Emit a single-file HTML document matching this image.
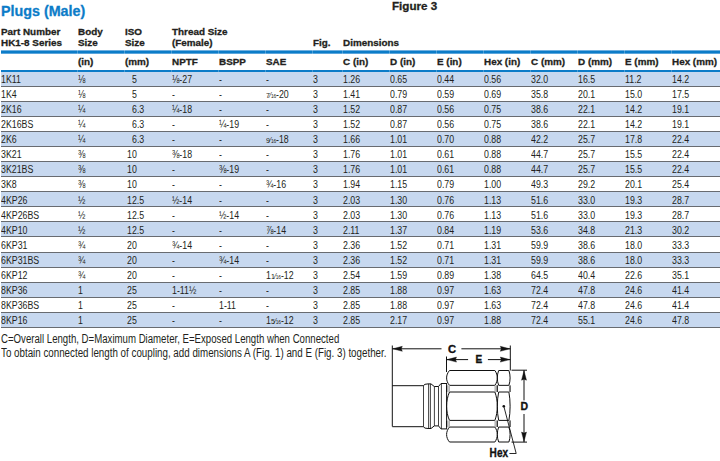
<!DOCTYPE html>
<html><head><meta charset="utf-8"><style>
html,body{margin:0;padding:0;background:#fff;width:720px;height:461px;overflow:hidden}
body{position:relative;font-family:"Liberation Sans", sans-serif;color:#231f20}
.t{position:absolute;white-space:nowrap;transform-origin:0 0}
.r{position:absolute}
.nu{font-size:0.8em;position:relative;top:-0.02em}
.sl{font-size:0.85em;margin:0 -0.02em}
.de{font-size:0.55em;letter-spacing:-0.03em}
</style></head><body>
<div class="t" style="left:1.00px;top:4.45px;font-size:14.3px;line-height:14.3px;font-weight:bold;-webkit-text-stroke:0.3px currentColor;color:#0c7cc8;">Plugs (Male)</div><div class="t" style="left:392.00px;top:1.38px;font-size:11.2px;line-height:11.2px;font-weight:bold;-webkit-text-stroke:0.3px currentColor;transform:scaleX(1.04);">Figure 3</div><div class="t" style="left:1.00px;top:27.46px;font-size:9.7px;line-height:9.7px;font-weight:bold;-webkit-text-stroke:0.3px currentColor;transform:scaleX(1.02);">Part Number</div><div class="t" style="left:1.00px;top:37.55px;font-size:9.7px;line-height:9.7px;font-weight:bold;-webkit-text-stroke:0.3px currentColor;transform:scaleX(1.02);">HK1-8 Series</div><div class="t" style="left:77.80px;top:27.46px;font-size:9.7px;line-height:9.7px;font-weight:bold;-webkit-text-stroke:0.3px currentColor;transform:scaleX(1.02);">Body</div><div class="t" style="left:77.80px;top:37.55px;font-size:9.7px;line-height:9.7px;font-weight:bold;-webkit-text-stroke:0.3px currentColor;transform:scaleX(1.02);">Size</div><div class="t" style="left:124.50px;top:27.46px;font-size:9.7px;line-height:9.7px;font-weight:bold;-webkit-text-stroke:0.3px currentColor;transform:scaleX(1.02);">ISO</div><div class="t" style="left:124.50px;top:37.55px;font-size:9.7px;line-height:9.7px;font-weight:bold;-webkit-text-stroke:0.3px currentColor;transform:scaleX(1.02);">Size</div><div class="t" style="left:171.50px;top:27.46px;font-size:9.7px;line-height:9.7px;font-weight:bold;-webkit-text-stroke:0.3px currentColor;transform:scaleX(1.02);">Thread Size</div><div class="t" style="left:171.50px;top:37.55px;font-size:9.7px;line-height:9.7px;font-weight:bold;-webkit-text-stroke:0.3px currentColor;transform:scaleX(1.02);">(Female)</div><div class="t" style="left:312.50px;top:37.55px;font-size:9.7px;line-height:9.7px;font-weight:bold;-webkit-text-stroke:0.3px currentColor;transform:scaleX(1.02);">Fig.</div><div class="t" style="left:342.50px;top:37.55px;font-size:9.7px;line-height:9.7px;font-weight:bold;-webkit-text-stroke:0.3px currentColor;transform:scaleX(1.02);">Dimensions</div><div class="t" style="left:77.50px;top:56.66px;font-size:9.7px;line-height:9.7px;font-weight:bold;-webkit-text-stroke:0.3px currentColor;transform:scaleX(1.02);">(in)</div><div class="t" style="left:124.50px;top:56.66px;font-size:9.7px;line-height:9.7px;font-weight:bold;-webkit-text-stroke:0.3px currentColor;transform:scaleX(1.02);">(mm)</div><div class="t" style="left:171.50px;top:56.66px;font-size:9.7px;line-height:9.7px;font-weight:bold;-webkit-text-stroke:0.3px currentColor;transform:scaleX(1.02);">NPTF</div><div class="t" style="left:218.75px;top:56.66px;font-size:9.7px;line-height:9.7px;font-weight:bold;-webkit-text-stroke:0.3px currentColor;transform:scaleX(1.02);">BSPP</div><div class="t" style="left:265.50px;top:56.66px;font-size:9.7px;line-height:9.7px;font-weight:bold;-webkit-text-stroke:0.3px currentColor;transform:scaleX(1.02);">SAE</div><div class="t" style="left:342.50px;top:56.66px;font-size:9.7px;line-height:9.7px;font-weight:bold;-webkit-text-stroke:0.3px currentColor;transform:scaleX(1.02);">C (in)</div><div class="t" style="left:389.50px;top:56.66px;font-size:9.7px;line-height:9.7px;font-weight:bold;-webkit-text-stroke:0.3px currentColor;transform:scaleX(1.02);">D (in)</div><div class="t" style="left:436.50px;top:56.66px;font-size:9.7px;line-height:9.7px;font-weight:bold;-webkit-text-stroke:0.3px currentColor;transform:scaleX(1.02);">E (in)</div><div class="t" style="left:483.75px;top:56.66px;font-size:9.7px;line-height:9.7px;font-weight:bold;-webkit-text-stroke:0.3px currentColor;transform:scaleX(1.02);">Hex (in)</div><div class="t" style="left:530.75px;top:56.66px;font-size:9.7px;line-height:9.7px;font-weight:bold;-webkit-text-stroke:0.3px currentColor;transform:scaleX(1.02);">C (mm)</div><div class="t" style="left:578.00px;top:56.66px;font-size:9.7px;line-height:9.7px;font-weight:bold;-webkit-text-stroke:0.3px currentColor;transform:scaleX(1.02);">D (mm)</div><div class="t" style="left:625.00px;top:56.66px;font-size:9.7px;line-height:9.7px;font-weight:bold;-webkit-text-stroke:0.3px currentColor;transform:scaleX(1.02);">E (mm)</div><div class="t" style="left:671.75px;top:56.66px;font-size:9.7px;line-height:9.7px;font-weight:bold;-webkit-text-stroke:0.3px currentColor;transform:scaleX(1.02);">Hex (mm)</div><div class="r" style="left:1px;top:50px;width:719px;height:1px;background:#6fb0e0"></div><div class="r" style="left:1px;top:51px;width:719px;height:2px;background:#0c7cc8"></div><div class="r" style="left:1px;top:53px;width:719px;height:1px;background:#5aa5dc"></div><div class="r" style="left:1px;top:70px;width:719px;height:2px;background:#0c7cc8"></div><div class="r" style="left:1px;top:72px;width:719px;height:14px;background:#c7d8ef"></div><div class="r" style="left:1px;top:86px;width:719px;height:1px;background:#686b70"></div><div class="t" style="left:1.00px;top:75.10px;font-size:10.0px;line-height:10.0px;transform:scaleX(0.88);">1K11</div><div class="t" style="left:77.50px;top:75.10px;font-size:10.0px;line-height:10.0px;transform:scaleX(0.88);">⅛</div><div class="t" style="left:131.60px;top:75.10px;font-size:10.0px;line-height:10.0px;transform:scaleX(0.88);">5</div><div class="t" style="left:171.50px;top:75.10px;font-size:10.0px;line-height:10.0px;transform:scaleX(0.88);">⅛-27</div><div class="t" style="left:218.75px;top:75.10px;font-size:10.0px;line-height:10.0px;transform:scaleX(0.88);">-</div><div class="t" style="left:265.50px;top:75.10px;font-size:10.0px;line-height:10.0px;transform:scaleX(0.88);">-</div><div class="t" style="left:313.00px;top:75.10px;font-size:10.0px;line-height:10.0px;transform:scaleX(0.88);">3</div><div class="t" style="left:342.50px;top:75.10px;font-size:10.0px;line-height:10.0px;transform:scaleX(0.88);">1.26</div><div class="t" style="left:389.50px;top:75.10px;font-size:10.0px;line-height:10.0px;transform:scaleX(0.88);">0.65</div><div class="t" style="left:436.50px;top:75.10px;font-size:10.0px;line-height:10.0px;transform:scaleX(0.88);">0.44</div><div class="t" style="left:483.75px;top:75.10px;font-size:10.0px;line-height:10.0px;transform:scaleX(0.88);">0.56</div><div class="t" style="left:530.75px;top:75.10px;font-size:10.0px;line-height:10.0px;transform:scaleX(0.88);">32.0</div><div class="t" style="left:578.00px;top:75.10px;font-size:10.0px;line-height:10.0px;transform:scaleX(0.88);">16.5</div><div class="t" style="left:625.00px;top:75.10px;font-size:10.0px;line-height:10.0px;transform:scaleX(0.88);">11.2</div><div class="t" style="left:671.75px;top:75.10px;font-size:10.0px;line-height:10.0px;transform:scaleX(0.88);">14.2</div><div class="r" style="left:1px;top:101px;width:719px;height:1px;background:#686b70"></div><div class="t" style="left:1.00px;top:90.16px;font-size:10.0px;line-height:10.0px;transform:scaleX(0.88);">1K4</div><div class="t" style="left:77.50px;top:90.16px;font-size:10.0px;line-height:10.0px;transform:scaleX(0.88);">⅛</div><div class="t" style="left:131.60px;top:90.16px;font-size:10.0px;line-height:10.0px;transform:scaleX(0.88);">5</div><div class="t" style="left:171.50px;top:90.16px;font-size:10.0px;line-height:10.0px;transform:scaleX(0.88);">-</div><div class="t" style="left:218.75px;top:90.16px;font-size:10.0px;line-height:10.0px;transform:scaleX(0.88);">-</div><div class="t" style="left:265.50px;top:90.16px;font-size:10.0px;line-height:10.0px;transform:scaleX(0.88);"><span class="nu">7</span><span class="sl">&#8260;</span><span class="de">16</span>-20</div><div class="t" style="left:313.00px;top:90.16px;font-size:10.0px;line-height:10.0px;transform:scaleX(0.88);">3</div><div class="t" style="left:342.50px;top:90.16px;font-size:10.0px;line-height:10.0px;transform:scaleX(0.88);">1.41</div><div class="t" style="left:389.50px;top:90.16px;font-size:10.0px;line-height:10.0px;transform:scaleX(0.88);">0.79</div><div class="t" style="left:436.50px;top:90.16px;font-size:10.0px;line-height:10.0px;transform:scaleX(0.88);">0.59</div><div class="t" style="left:483.75px;top:90.16px;font-size:10.0px;line-height:10.0px;transform:scaleX(0.88);">0.69</div><div class="t" style="left:530.75px;top:90.16px;font-size:10.0px;line-height:10.0px;transform:scaleX(0.88);">35.8</div><div class="t" style="left:578.00px;top:90.16px;font-size:10.0px;line-height:10.0px;transform:scaleX(0.88);">20.1</div><div class="t" style="left:625.00px;top:90.16px;font-size:10.0px;line-height:10.0px;transform:scaleX(0.88);">15.0</div><div class="t" style="left:671.75px;top:90.16px;font-size:10.0px;line-height:10.0px;transform:scaleX(0.88);">17.5</div><div class="r" style="left:1px;top:102px;width:719px;height:14px;background:#c7d8ef"></div><div class="r" style="left:1px;top:116px;width:719px;height:1px;background:#686b70"></div><div class="t" style="left:1.00px;top:105.21px;font-size:10.0px;line-height:10.0px;transform:scaleX(0.88);">2K16</div><div class="t" style="left:77.50px;top:105.21px;font-size:10.0px;line-height:10.0px;transform:scaleX(0.88);">¼</div><div class="t" style="left:131.60px;top:105.21px;font-size:10.0px;line-height:10.0px;transform:scaleX(0.88);">6.3</div><div class="t" style="left:171.50px;top:105.21px;font-size:10.0px;line-height:10.0px;transform:scaleX(0.88);">¼-18</div><div class="t" style="left:218.75px;top:105.21px;font-size:10.0px;line-height:10.0px;transform:scaleX(0.88);">-</div><div class="t" style="left:265.50px;top:105.21px;font-size:10.0px;line-height:10.0px;transform:scaleX(0.88);">-</div><div class="t" style="left:313.00px;top:105.21px;font-size:10.0px;line-height:10.0px;transform:scaleX(0.88);">3</div><div class="t" style="left:342.50px;top:105.21px;font-size:10.0px;line-height:10.0px;transform:scaleX(0.88);">1.52</div><div class="t" style="left:389.50px;top:105.21px;font-size:10.0px;line-height:10.0px;transform:scaleX(0.88);">0.87</div><div class="t" style="left:436.50px;top:105.21px;font-size:10.0px;line-height:10.0px;transform:scaleX(0.88);">0.56</div><div class="t" style="left:483.75px;top:105.21px;font-size:10.0px;line-height:10.0px;transform:scaleX(0.88);">0.75</div><div class="t" style="left:530.75px;top:105.21px;font-size:10.0px;line-height:10.0px;transform:scaleX(0.88);">38.6</div><div class="t" style="left:578.00px;top:105.21px;font-size:10.0px;line-height:10.0px;transform:scaleX(0.88);">22.1</div><div class="t" style="left:625.00px;top:105.21px;font-size:10.0px;line-height:10.0px;transform:scaleX(0.88);">14.2</div><div class="t" style="left:671.75px;top:105.21px;font-size:10.0px;line-height:10.0px;transform:scaleX(0.88);">19.1</div><div class="r" style="left:1px;top:131px;width:719px;height:1px;background:#686b70"></div><div class="t" style="left:1.00px;top:120.27px;font-size:10.0px;line-height:10.0px;transform:scaleX(0.88);">2K16BS</div><div class="t" style="left:77.50px;top:120.27px;font-size:10.0px;line-height:10.0px;transform:scaleX(0.88);">¼</div><div class="t" style="left:131.60px;top:120.27px;font-size:10.0px;line-height:10.0px;transform:scaleX(0.88);">6.3</div><div class="t" style="left:171.50px;top:120.27px;font-size:10.0px;line-height:10.0px;transform:scaleX(0.88);">-</div><div class="t" style="left:218.75px;top:120.27px;font-size:10.0px;line-height:10.0px;transform:scaleX(0.88);">¼-19</div><div class="t" style="left:265.50px;top:120.27px;font-size:10.0px;line-height:10.0px;transform:scaleX(0.88);">-</div><div class="t" style="left:313.00px;top:120.27px;font-size:10.0px;line-height:10.0px;transform:scaleX(0.88);">3</div><div class="t" style="left:342.50px;top:120.27px;font-size:10.0px;line-height:10.0px;transform:scaleX(0.88);">1.52</div><div class="t" style="left:389.50px;top:120.27px;font-size:10.0px;line-height:10.0px;transform:scaleX(0.88);">0.87</div><div class="t" style="left:436.50px;top:120.27px;font-size:10.0px;line-height:10.0px;transform:scaleX(0.88);">0.56</div><div class="t" style="left:483.75px;top:120.27px;font-size:10.0px;line-height:10.0px;transform:scaleX(0.88);">0.75</div><div class="t" style="left:530.75px;top:120.27px;font-size:10.0px;line-height:10.0px;transform:scaleX(0.88);">38.6</div><div class="t" style="left:578.00px;top:120.27px;font-size:10.0px;line-height:10.0px;transform:scaleX(0.88);">22.1</div><div class="t" style="left:625.00px;top:120.27px;font-size:10.0px;line-height:10.0px;transform:scaleX(0.88);">14.2</div><div class="t" style="left:671.75px;top:120.27px;font-size:10.0px;line-height:10.0px;transform:scaleX(0.88);">19.1</div><div class="r" style="left:1px;top:132px;width:719px;height:14px;background:#c7d8ef"></div><div class="r" style="left:1px;top:146px;width:719px;height:1px;background:#686b70"></div><div class="t" style="left:1.00px;top:135.32px;font-size:10.0px;line-height:10.0px;transform:scaleX(0.88);">2K6</div><div class="t" style="left:77.50px;top:135.32px;font-size:10.0px;line-height:10.0px;transform:scaleX(0.88);">¼</div><div class="t" style="left:131.60px;top:135.32px;font-size:10.0px;line-height:10.0px;transform:scaleX(0.88);">6.3</div><div class="t" style="left:171.50px;top:135.32px;font-size:10.0px;line-height:10.0px;transform:scaleX(0.88);">-</div><div class="t" style="left:218.75px;top:135.32px;font-size:10.0px;line-height:10.0px;transform:scaleX(0.88);">-</div><div class="t" style="left:265.50px;top:135.32px;font-size:10.0px;line-height:10.0px;transform:scaleX(0.88);"><span class="nu">9</span><span class="sl">&#8260;</span><span class="de">16</span>-18</div><div class="t" style="left:313.00px;top:135.32px;font-size:10.0px;line-height:10.0px;transform:scaleX(0.88);">3</div><div class="t" style="left:342.50px;top:135.32px;font-size:10.0px;line-height:10.0px;transform:scaleX(0.88);">1.66</div><div class="t" style="left:389.50px;top:135.32px;font-size:10.0px;line-height:10.0px;transform:scaleX(0.88);">1.01</div><div class="t" style="left:436.50px;top:135.32px;font-size:10.0px;line-height:10.0px;transform:scaleX(0.88);">0.70</div><div class="t" style="left:483.75px;top:135.32px;font-size:10.0px;line-height:10.0px;transform:scaleX(0.88);">0.88</div><div class="t" style="left:530.75px;top:135.32px;font-size:10.0px;line-height:10.0px;transform:scaleX(0.88);">42.2</div><div class="t" style="left:578.00px;top:135.32px;font-size:10.0px;line-height:10.0px;transform:scaleX(0.88);">25.7</div><div class="t" style="left:625.00px;top:135.32px;font-size:10.0px;line-height:10.0px;transform:scaleX(0.88);">17.8</div><div class="t" style="left:671.75px;top:135.32px;font-size:10.0px;line-height:10.0px;transform:scaleX(0.88);">22.4</div><div class="r" style="left:1px;top:161px;width:719px;height:1px;background:#686b70"></div><div class="t" style="left:1.00px;top:150.38px;font-size:10.0px;line-height:10.0px;transform:scaleX(0.88);">3K21</div><div class="t" style="left:77.50px;top:150.38px;font-size:10.0px;line-height:10.0px;transform:scaleX(0.88);">⅜</div><div class="t" style="left:126.80px;top:150.38px;font-size:10.0px;line-height:10.0px;transform:scaleX(0.88);">10</div><div class="t" style="left:171.50px;top:150.38px;font-size:10.0px;line-height:10.0px;transform:scaleX(0.88);">⅜-18</div><div class="t" style="left:218.75px;top:150.38px;font-size:10.0px;line-height:10.0px;transform:scaleX(0.88);">-</div><div class="t" style="left:265.50px;top:150.38px;font-size:10.0px;line-height:10.0px;transform:scaleX(0.88);">-</div><div class="t" style="left:313.00px;top:150.38px;font-size:10.0px;line-height:10.0px;transform:scaleX(0.88);">3</div><div class="t" style="left:342.50px;top:150.38px;font-size:10.0px;line-height:10.0px;transform:scaleX(0.88);">1.76</div><div class="t" style="left:389.50px;top:150.38px;font-size:10.0px;line-height:10.0px;transform:scaleX(0.88);">1.01</div><div class="t" style="left:436.50px;top:150.38px;font-size:10.0px;line-height:10.0px;transform:scaleX(0.88);">0.61</div><div class="t" style="left:483.75px;top:150.38px;font-size:10.0px;line-height:10.0px;transform:scaleX(0.88);">0.88</div><div class="t" style="left:530.75px;top:150.38px;font-size:10.0px;line-height:10.0px;transform:scaleX(0.88);">44.7</div><div class="t" style="left:578.00px;top:150.38px;font-size:10.0px;line-height:10.0px;transform:scaleX(0.88);">25.7</div><div class="t" style="left:625.00px;top:150.38px;font-size:10.0px;line-height:10.0px;transform:scaleX(0.88);">15.5</div><div class="t" style="left:671.75px;top:150.38px;font-size:10.0px;line-height:10.0px;transform:scaleX(0.88);">22.4</div><div class="r" style="left:1px;top:162px;width:719px;height:14px;background:#c7d8ef"></div><div class="r" style="left:1px;top:176px;width:719px;height:1px;background:#686b70"></div><div class="t" style="left:1.00px;top:165.44px;font-size:10.0px;line-height:10.0px;transform:scaleX(0.88);">3K21BS</div><div class="t" style="left:77.50px;top:165.44px;font-size:10.0px;line-height:10.0px;transform:scaleX(0.88);">⅜</div><div class="t" style="left:126.80px;top:165.44px;font-size:10.0px;line-height:10.0px;transform:scaleX(0.88);">10</div><div class="t" style="left:171.50px;top:165.44px;font-size:10.0px;line-height:10.0px;transform:scaleX(0.88);">-</div><div class="t" style="left:218.75px;top:165.44px;font-size:10.0px;line-height:10.0px;transform:scaleX(0.88);">⅜-19</div><div class="t" style="left:265.50px;top:165.44px;font-size:10.0px;line-height:10.0px;transform:scaleX(0.88);">-</div><div class="t" style="left:313.00px;top:165.44px;font-size:10.0px;line-height:10.0px;transform:scaleX(0.88);">3</div><div class="t" style="left:342.50px;top:165.44px;font-size:10.0px;line-height:10.0px;transform:scaleX(0.88);">1.76</div><div class="t" style="left:389.50px;top:165.44px;font-size:10.0px;line-height:10.0px;transform:scaleX(0.88);">1.01</div><div class="t" style="left:436.50px;top:165.44px;font-size:10.0px;line-height:10.0px;transform:scaleX(0.88);">0.61</div><div class="t" style="left:483.75px;top:165.44px;font-size:10.0px;line-height:10.0px;transform:scaleX(0.88);">0.88</div><div class="t" style="left:530.75px;top:165.44px;font-size:10.0px;line-height:10.0px;transform:scaleX(0.88);">44.7</div><div class="t" style="left:578.00px;top:165.44px;font-size:10.0px;line-height:10.0px;transform:scaleX(0.88);">25.7</div><div class="t" style="left:625.00px;top:165.44px;font-size:10.0px;line-height:10.0px;transform:scaleX(0.88);">15.5</div><div class="t" style="left:671.75px;top:165.44px;font-size:10.0px;line-height:10.0px;transform:scaleX(0.88);">22.4</div><div class="r" style="left:1px;top:191px;width:719px;height:1px;background:#686b70"></div><div class="t" style="left:1.00px;top:180.49px;font-size:10.0px;line-height:10.0px;transform:scaleX(0.88);">3K8</div><div class="t" style="left:77.50px;top:180.49px;font-size:10.0px;line-height:10.0px;transform:scaleX(0.88);">⅜</div><div class="t" style="left:126.80px;top:180.49px;font-size:10.0px;line-height:10.0px;transform:scaleX(0.88);">10</div><div class="t" style="left:171.50px;top:180.49px;font-size:10.0px;line-height:10.0px;transform:scaleX(0.88);">-</div><div class="t" style="left:218.75px;top:180.49px;font-size:10.0px;line-height:10.0px;transform:scaleX(0.88);">-</div><div class="t" style="left:265.50px;top:180.49px;font-size:10.0px;line-height:10.0px;transform:scaleX(0.88);">¾-16</div><div class="t" style="left:313.00px;top:180.49px;font-size:10.0px;line-height:10.0px;transform:scaleX(0.88);">3</div><div class="t" style="left:342.50px;top:180.49px;font-size:10.0px;line-height:10.0px;transform:scaleX(0.88);">1.94</div><div class="t" style="left:389.50px;top:180.49px;font-size:10.0px;line-height:10.0px;transform:scaleX(0.88);">1.15</div><div class="t" style="left:436.50px;top:180.49px;font-size:10.0px;line-height:10.0px;transform:scaleX(0.88);">0.79</div><div class="t" style="left:483.75px;top:180.49px;font-size:10.0px;line-height:10.0px;transform:scaleX(0.88);">1.00</div><div class="t" style="left:530.75px;top:180.49px;font-size:10.0px;line-height:10.0px;transform:scaleX(0.88);">49.3</div><div class="t" style="left:578.00px;top:180.49px;font-size:10.0px;line-height:10.0px;transform:scaleX(0.88);">29.2</div><div class="t" style="left:625.00px;top:180.49px;font-size:10.0px;line-height:10.0px;transform:scaleX(0.88);">20.1</div><div class="t" style="left:671.75px;top:180.49px;font-size:10.0px;line-height:10.0px;transform:scaleX(0.88);">25.4</div><div class="r" style="left:1px;top:192px;width:719px;height:14px;background:#c7d8ef"></div><div class="r" style="left:1px;top:206px;width:719px;height:1px;background:#686b70"></div><div class="t" style="left:1.00px;top:195.55px;font-size:10.0px;line-height:10.0px;transform:scaleX(0.88);">4KP26</div><div class="t" style="left:77.50px;top:195.55px;font-size:10.0px;line-height:10.0px;transform:scaleX(0.88);">½</div><div class="t" style="left:126.80px;top:195.55px;font-size:10.0px;line-height:10.0px;transform:scaleX(0.88);">12.5</div><div class="t" style="left:171.50px;top:195.55px;font-size:10.0px;line-height:10.0px;transform:scaleX(0.88);">½-14</div><div class="t" style="left:218.75px;top:195.55px;font-size:10.0px;line-height:10.0px;transform:scaleX(0.88);">-</div><div class="t" style="left:265.50px;top:195.55px;font-size:10.0px;line-height:10.0px;transform:scaleX(0.88);">-</div><div class="t" style="left:313.00px;top:195.55px;font-size:10.0px;line-height:10.0px;transform:scaleX(0.88);">3</div><div class="t" style="left:342.50px;top:195.55px;font-size:10.0px;line-height:10.0px;transform:scaleX(0.88);">2.03</div><div class="t" style="left:389.50px;top:195.55px;font-size:10.0px;line-height:10.0px;transform:scaleX(0.88);">1.30</div><div class="t" style="left:436.50px;top:195.55px;font-size:10.0px;line-height:10.0px;transform:scaleX(0.88);">0.76</div><div class="t" style="left:483.75px;top:195.55px;font-size:10.0px;line-height:10.0px;transform:scaleX(0.88);">1.13</div><div class="t" style="left:530.75px;top:195.55px;font-size:10.0px;line-height:10.0px;transform:scaleX(0.88);">51.6</div><div class="t" style="left:578.00px;top:195.55px;font-size:10.0px;line-height:10.0px;transform:scaleX(0.88);">33.0</div><div class="t" style="left:625.00px;top:195.55px;font-size:10.0px;line-height:10.0px;transform:scaleX(0.88);">19.3</div><div class="t" style="left:671.75px;top:195.55px;font-size:10.0px;line-height:10.0px;transform:scaleX(0.88);">28.7</div><div class="r" style="left:1px;top:221px;width:719px;height:1px;background:#686b70"></div><div class="t" style="left:1.00px;top:210.60px;font-size:10.0px;line-height:10.0px;transform:scaleX(0.88);">4KP26BS</div><div class="t" style="left:77.50px;top:210.60px;font-size:10.0px;line-height:10.0px;transform:scaleX(0.88);">½</div><div class="t" style="left:126.80px;top:210.60px;font-size:10.0px;line-height:10.0px;transform:scaleX(0.88);">12.5</div><div class="t" style="left:171.50px;top:210.60px;font-size:10.0px;line-height:10.0px;transform:scaleX(0.88);">-</div><div class="t" style="left:218.75px;top:210.60px;font-size:10.0px;line-height:10.0px;transform:scaleX(0.88);">½-14</div><div class="t" style="left:265.50px;top:210.60px;font-size:10.0px;line-height:10.0px;transform:scaleX(0.88);">-</div><div class="t" style="left:313.00px;top:210.60px;font-size:10.0px;line-height:10.0px;transform:scaleX(0.88);">3</div><div class="t" style="left:342.50px;top:210.60px;font-size:10.0px;line-height:10.0px;transform:scaleX(0.88);">2.03</div><div class="t" style="left:389.50px;top:210.60px;font-size:10.0px;line-height:10.0px;transform:scaleX(0.88);">1.30</div><div class="t" style="left:436.50px;top:210.60px;font-size:10.0px;line-height:10.0px;transform:scaleX(0.88);">0.76</div><div class="t" style="left:483.75px;top:210.60px;font-size:10.0px;line-height:10.0px;transform:scaleX(0.88);">1.13</div><div class="t" style="left:530.75px;top:210.60px;font-size:10.0px;line-height:10.0px;transform:scaleX(0.88);">51.6</div><div class="t" style="left:578.00px;top:210.60px;font-size:10.0px;line-height:10.0px;transform:scaleX(0.88);">33.0</div><div class="t" style="left:625.00px;top:210.60px;font-size:10.0px;line-height:10.0px;transform:scaleX(0.88);">19.3</div><div class="t" style="left:671.75px;top:210.60px;font-size:10.0px;line-height:10.0px;transform:scaleX(0.88);">28.7</div><div class="r" style="left:1px;top:222px;width:719px;height:14px;background:#c7d8ef"></div><div class="r" style="left:1px;top:236px;width:719px;height:1px;background:#686b70"></div><div class="t" style="left:1.00px;top:225.66px;font-size:10.0px;line-height:10.0px;transform:scaleX(0.88);">4KP10</div><div class="t" style="left:77.50px;top:225.66px;font-size:10.0px;line-height:10.0px;transform:scaleX(0.88);">½</div><div class="t" style="left:126.80px;top:225.66px;font-size:10.0px;line-height:10.0px;transform:scaleX(0.88);">12.5</div><div class="t" style="left:171.50px;top:225.66px;font-size:10.0px;line-height:10.0px;transform:scaleX(0.88);">-</div><div class="t" style="left:218.75px;top:225.66px;font-size:10.0px;line-height:10.0px;transform:scaleX(0.88);">-</div><div class="t" style="left:265.50px;top:225.66px;font-size:10.0px;line-height:10.0px;transform:scaleX(0.88);">⅞-14</div><div class="t" style="left:313.00px;top:225.66px;font-size:10.0px;line-height:10.0px;transform:scaleX(0.88);">3</div><div class="t" style="left:342.50px;top:225.66px;font-size:10.0px;line-height:10.0px;transform:scaleX(0.88);">2.11</div><div class="t" style="left:389.50px;top:225.66px;font-size:10.0px;line-height:10.0px;transform:scaleX(0.88);">1.37</div><div class="t" style="left:436.50px;top:225.66px;font-size:10.0px;line-height:10.0px;transform:scaleX(0.88);">0.84</div><div class="t" style="left:483.75px;top:225.66px;font-size:10.0px;line-height:10.0px;transform:scaleX(0.88);">1.19</div><div class="t" style="left:530.75px;top:225.66px;font-size:10.0px;line-height:10.0px;transform:scaleX(0.88);">53.6</div><div class="t" style="left:578.00px;top:225.66px;font-size:10.0px;line-height:10.0px;transform:scaleX(0.88);">34.8</div><div class="t" style="left:625.00px;top:225.66px;font-size:10.0px;line-height:10.0px;transform:scaleX(0.88);">21.3</div><div class="t" style="left:671.75px;top:225.66px;font-size:10.0px;line-height:10.0px;transform:scaleX(0.88);">30.2</div><div class="r" style="left:1px;top:252px;width:719px;height:1px;background:#686b70"></div><div class="t" style="left:1.00px;top:240.72px;font-size:10.0px;line-height:10.0px;transform:scaleX(0.88);">6KP31</div><div class="t" style="left:77.50px;top:240.72px;font-size:10.0px;line-height:10.0px;transform:scaleX(0.88);">¾</div><div class="t" style="left:126.80px;top:240.72px;font-size:10.0px;line-height:10.0px;transform:scaleX(0.88);">20</div><div class="t" style="left:171.50px;top:240.72px;font-size:10.0px;line-height:10.0px;transform:scaleX(0.88);">¾-14</div><div class="t" style="left:218.75px;top:240.72px;font-size:10.0px;line-height:10.0px;transform:scaleX(0.88);">-</div><div class="t" style="left:265.50px;top:240.72px;font-size:10.0px;line-height:10.0px;transform:scaleX(0.88);">-</div><div class="t" style="left:313.00px;top:240.72px;font-size:10.0px;line-height:10.0px;transform:scaleX(0.88);">3</div><div class="t" style="left:342.50px;top:240.72px;font-size:10.0px;line-height:10.0px;transform:scaleX(0.88);">2.36</div><div class="t" style="left:389.50px;top:240.72px;font-size:10.0px;line-height:10.0px;transform:scaleX(0.88);">1.52</div><div class="t" style="left:436.50px;top:240.72px;font-size:10.0px;line-height:10.0px;transform:scaleX(0.88);">0.71</div><div class="t" style="left:483.75px;top:240.72px;font-size:10.0px;line-height:10.0px;transform:scaleX(0.88);">1.31</div><div class="t" style="left:530.75px;top:240.72px;font-size:10.0px;line-height:10.0px;transform:scaleX(0.88);">59.9</div><div class="t" style="left:578.00px;top:240.72px;font-size:10.0px;line-height:10.0px;transform:scaleX(0.88);">38.6</div><div class="t" style="left:625.00px;top:240.72px;font-size:10.0px;line-height:10.0px;transform:scaleX(0.88);">18.0</div><div class="t" style="left:671.75px;top:240.72px;font-size:10.0px;line-height:10.0px;transform:scaleX(0.88);">33.3</div><div class="r" style="left:1px;top:253px;width:719px;height:14px;background:#c7d8ef"></div><div class="r" style="left:1px;top:267px;width:719px;height:1px;background:#686b70"></div><div class="t" style="left:1.00px;top:255.77px;font-size:10.0px;line-height:10.0px;transform:scaleX(0.88);">6KP31BS</div><div class="t" style="left:77.50px;top:255.77px;font-size:10.0px;line-height:10.0px;transform:scaleX(0.88);">¾</div><div class="t" style="left:126.80px;top:255.77px;font-size:10.0px;line-height:10.0px;transform:scaleX(0.88);">20</div><div class="t" style="left:171.50px;top:255.77px;font-size:10.0px;line-height:10.0px;transform:scaleX(0.88);">-</div><div class="t" style="left:218.75px;top:255.77px;font-size:10.0px;line-height:10.0px;transform:scaleX(0.88);">¾-14</div><div class="t" style="left:265.50px;top:255.77px;font-size:10.0px;line-height:10.0px;transform:scaleX(0.88);">-</div><div class="t" style="left:313.00px;top:255.77px;font-size:10.0px;line-height:10.0px;transform:scaleX(0.88);">3</div><div class="t" style="left:342.50px;top:255.77px;font-size:10.0px;line-height:10.0px;transform:scaleX(0.88);">2.36</div><div class="t" style="left:389.50px;top:255.77px;font-size:10.0px;line-height:10.0px;transform:scaleX(0.88);">1.52</div><div class="t" style="left:436.50px;top:255.77px;font-size:10.0px;line-height:10.0px;transform:scaleX(0.88);">0.71</div><div class="t" style="left:483.75px;top:255.77px;font-size:10.0px;line-height:10.0px;transform:scaleX(0.88);">1.31</div><div class="t" style="left:530.75px;top:255.77px;font-size:10.0px;line-height:10.0px;transform:scaleX(0.88);">59.9</div><div class="t" style="left:578.00px;top:255.77px;font-size:10.0px;line-height:10.0px;transform:scaleX(0.88);">38.6</div><div class="t" style="left:625.00px;top:255.77px;font-size:10.0px;line-height:10.0px;transform:scaleX(0.88);">18.0</div><div class="t" style="left:671.75px;top:255.77px;font-size:10.0px;line-height:10.0px;transform:scaleX(0.88);">33.3</div><div class="r" style="left:1px;top:282px;width:719px;height:1px;background:#686b70"></div><div class="t" style="left:1.00px;top:270.83px;font-size:10.0px;line-height:10.0px;transform:scaleX(0.88);">6KP12</div><div class="t" style="left:77.50px;top:270.83px;font-size:10.0px;line-height:10.0px;transform:scaleX(0.88);">¾</div><div class="t" style="left:126.80px;top:270.83px;font-size:10.0px;line-height:10.0px;transform:scaleX(0.88);">20</div><div class="t" style="left:171.50px;top:270.83px;font-size:10.0px;line-height:10.0px;transform:scaleX(0.88);">-</div><div class="t" style="left:218.75px;top:270.83px;font-size:10.0px;line-height:10.0px;transform:scaleX(0.88);">-</div><div class="t" style="left:265.50px;top:270.83px;font-size:10.0px;line-height:10.0px;transform:scaleX(0.88);">1<span class="nu">1</span><span class="sl">&#8260;</span><span class="de">16</span>-12</div><div class="t" style="left:313.00px;top:270.83px;font-size:10.0px;line-height:10.0px;transform:scaleX(0.88);">3</div><div class="t" style="left:342.50px;top:270.83px;font-size:10.0px;line-height:10.0px;transform:scaleX(0.88);">2.54</div><div class="t" style="left:389.50px;top:270.83px;font-size:10.0px;line-height:10.0px;transform:scaleX(0.88);">1.59</div><div class="t" style="left:436.50px;top:270.83px;font-size:10.0px;line-height:10.0px;transform:scaleX(0.88);">0.89</div><div class="t" style="left:483.75px;top:270.83px;font-size:10.0px;line-height:10.0px;transform:scaleX(0.88);">1.38</div><div class="t" style="left:530.75px;top:270.83px;font-size:10.0px;line-height:10.0px;transform:scaleX(0.88);">64.5</div><div class="t" style="left:578.00px;top:270.83px;font-size:10.0px;line-height:10.0px;transform:scaleX(0.88);">40.4</div><div class="t" style="left:625.00px;top:270.83px;font-size:10.0px;line-height:10.0px;transform:scaleX(0.88);">22.6</div><div class="t" style="left:671.75px;top:270.83px;font-size:10.0px;line-height:10.0px;transform:scaleX(0.88);">35.1</div><div class="r" style="left:1px;top:283px;width:719px;height:14px;background:#c7d8ef"></div><div class="r" style="left:1px;top:297px;width:719px;height:1px;background:#686b70"></div><div class="t" style="left:1.00px;top:285.88px;font-size:10.0px;line-height:10.0px;transform:scaleX(0.88);">8KP36</div><div class="t" style="left:77.50px;top:285.88px;font-size:10.0px;line-height:10.0px;transform:scaleX(0.88);">1</div><div class="t" style="left:126.80px;top:285.88px;font-size:10.0px;line-height:10.0px;transform:scaleX(0.88);">25</div><div class="t" style="left:171.50px;top:285.88px;font-size:10.0px;line-height:10.0px;transform:scaleX(0.88);">1-11½</div><div class="t" style="left:218.75px;top:285.88px;font-size:10.0px;line-height:10.0px;transform:scaleX(0.88);">-</div><div class="t" style="left:265.50px;top:285.88px;font-size:10.0px;line-height:10.0px;transform:scaleX(0.88);">-</div><div class="t" style="left:313.00px;top:285.88px;font-size:10.0px;line-height:10.0px;transform:scaleX(0.88);">3</div><div class="t" style="left:342.50px;top:285.88px;font-size:10.0px;line-height:10.0px;transform:scaleX(0.88);">2.85</div><div class="t" style="left:389.50px;top:285.88px;font-size:10.0px;line-height:10.0px;transform:scaleX(0.88);">1.88</div><div class="t" style="left:436.50px;top:285.88px;font-size:10.0px;line-height:10.0px;transform:scaleX(0.88);">0.97</div><div class="t" style="left:483.75px;top:285.88px;font-size:10.0px;line-height:10.0px;transform:scaleX(0.88);">1.63</div><div class="t" style="left:530.75px;top:285.88px;font-size:10.0px;line-height:10.0px;transform:scaleX(0.88);">72.4</div><div class="t" style="left:578.00px;top:285.88px;font-size:10.0px;line-height:10.0px;transform:scaleX(0.88);">47.8</div><div class="t" style="left:625.00px;top:285.88px;font-size:10.0px;line-height:10.0px;transform:scaleX(0.88);">24.6</div><div class="t" style="left:671.75px;top:285.88px;font-size:10.0px;line-height:10.0px;transform:scaleX(0.88);">41.4</div><div class="r" style="left:1px;top:312px;width:719px;height:1px;background:#686b70"></div><div class="t" style="left:1.00px;top:300.94px;font-size:10.0px;line-height:10.0px;transform:scaleX(0.88);">8KP36BS</div><div class="t" style="left:77.50px;top:300.94px;font-size:10.0px;line-height:10.0px;transform:scaleX(0.88);">1</div><div class="t" style="left:126.80px;top:300.94px;font-size:10.0px;line-height:10.0px;transform:scaleX(0.88);">25</div><div class="t" style="left:171.50px;top:300.94px;font-size:10.0px;line-height:10.0px;transform:scaleX(0.88);">-</div><div class="t" style="left:218.75px;top:300.94px;font-size:10.0px;line-height:10.0px;transform:scaleX(0.88);">1-11</div><div class="t" style="left:265.50px;top:300.94px;font-size:10.0px;line-height:10.0px;transform:scaleX(0.88);">-</div><div class="t" style="left:313.00px;top:300.94px;font-size:10.0px;line-height:10.0px;transform:scaleX(0.88);">3</div><div class="t" style="left:342.50px;top:300.94px;font-size:10.0px;line-height:10.0px;transform:scaleX(0.88);">2.85</div><div class="t" style="left:389.50px;top:300.94px;font-size:10.0px;line-height:10.0px;transform:scaleX(0.88);">1.88</div><div class="t" style="left:436.50px;top:300.94px;font-size:10.0px;line-height:10.0px;transform:scaleX(0.88);">0.97</div><div class="t" style="left:483.75px;top:300.94px;font-size:10.0px;line-height:10.0px;transform:scaleX(0.88);">1.63</div><div class="t" style="left:530.75px;top:300.94px;font-size:10.0px;line-height:10.0px;transform:scaleX(0.88);">72.4</div><div class="t" style="left:578.00px;top:300.94px;font-size:10.0px;line-height:10.0px;transform:scaleX(0.88);">47.8</div><div class="t" style="left:625.00px;top:300.94px;font-size:10.0px;line-height:10.0px;transform:scaleX(0.88);">24.6</div><div class="t" style="left:671.75px;top:300.94px;font-size:10.0px;line-height:10.0px;transform:scaleX(0.88);">41.4</div><div class="r" style="left:1px;top:313px;width:719px;height:14px;background:#c7d8ef"></div><div class="r" style="left:1px;top:327px;width:719px;height:1px;background:#686b70"></div><div class="t" style="left:1.00px;top:316.00px;font-size:10.0px;line-height:10.0px;transform:scaleX(0.88);">8KP16</div><div class="t" style="left:77.50px;top:316.00px;font-size:10.0px;line-height:10.0px;transform:scaleX(0.88);">1</div><div class="t" style="left:126.80px;top:316.00px;font-size:10.0px;line-height:10.0px;transform:scaleX(0.88);">25</div><div class="t" style="left:171.50px;top:316.00px;font-size:10.0px;line-height:10.0px;transform:scaleX(0.88);">-</div><div class="t" style="left:218.75px;top:316.00px;font-size:10.0px;line-height:10.0px;transform:scaleX(0.88);">-</div><div class="t" style="left:265.50px;top:316.00px;font-size:10.0px;line-height:10.0px;transform:scaleX(0.88);">1<span class="nu">5</span><span class="sl">&#8260;</span><span class="de">16</span>-12</div><div class="t" style="left:313.00px;top:316.00px;font-size:10.0px;line-height:10.0px;transform:scaleX(0.88);">3</div><div class="t" style="left:342.50px;top:316.00px;font-size:10.0px;line-height:10.0px;transform:scaleX(0.88);">2.85</div><div class="t" style="left:389.50px;top:316.00px;font-size:10.0px;line-height:10.0px;transform:scaleX(0.88);">2.17</div><div class="t" style="left:436.50px;top:316.00px;font-size:10.0px;line-height:10.0px;transform:scaleX(0.88);">0.97</div><div class="t" style="left:483.75px;top:316.00px;font-size:10.0px;line-height:10.0px;transform:scaleX(0.88);">1.88</div><div class="t" style="left:530.75px;top:316.00px;font-size:10.0px;line-height:10.0px;transform:scaleX(0.88);">72.4</div><div class="t" style="left:578.00px;top:316.00px;font-size:10.0px;line-height:10.0px;transform:scaleX(0.88);">55.1</div><div class="t" style="left:625.00px;top:316.00px;font-size:10.0px;line-height:10.0px;transform:scaleX(0.88);">24.6</div><div class="t" style="left:671.75px;top:316.00px;font-size:10.0px;line-height:10.0px;transform:scaleX(0.88);">47.8</div><div class="r" style="left:77.0px;top:50px;width:1px;height:4px;background:rgba(255,255,255,0.25)"></div><div class="r" style="left:77.0px;top:70px;width:1px;height:2px;background:rgba(255,255,255,0.25)"></div><div class="r" style="left:124.0px;top:50px;width:1px;height:4px;background:rgba(255,255,255,0.25)"></div><div class="r" style="left:124.0px;top:70px;width:1px;height:2px;background:rgba(255,255,255,0.25)"></div><div class="r" style="left:170.7px;top:50px;width:1px;height:4px;background:rgba(255,255,255,0.25)"></div><div class="r" style="left:170.7px;top:70px;width:1px;height:2px;background:rgba(255,255,255,0.25)"></div><div class="r" style="left:218.0px;top:50px;width:1px;height:4px;background:rgba(255,255,255,0.25)"></div><div class="r" style="left:218.0px;top:70px;width:1px;height:2px;background:rgba(255,255,255,0.25)"></div><div class="r" style="left:264.7px;top:50px;width:1px;height:4px;background:rgba(255,255,255,0.25)"></div><div class="r" style="left:264.7px;top:70px;width:1px;height:2px;background:rgba(255,255,255,0.25)"></div><div class="r" style="left:311.8px;top:50px;width:1px;height:4px;background:rgba(255,255,255,0.25)"></div><div class="r" style="left:311.8px;top:70px;width:1px;height:2px;background:rgba(255,255,255,0.25)"></div><div class="r" style="left:341.7px;top:50px;width:1px;height:4px;background:rgba(255,255,255,0.25)"></div><div class="r" style="left:341.7px;top:70px;width:1px;height:2px;background:rgba(255,255,255,0.25)"></div><div class="r" style="left:388.8px;top:50px;width:1px;height:4px;background:rgba(255,255,255,0.25)"></div><div class="r" style="left:388.8px;top:70px;width:1px;height:2px;background:rgba(255,255,255,0.25)"></div><div class="r" style="left:435.8px;top:50px;width:1px;height:4px;background:rgba(255,255,255,0.25)"></div><div class="r" style="left:435.8px;top:70px;width:1px;height:2px;background:rgba(255,255,255,0.25)"></div><div class="r" style="left:483.0px;top:50px;width:1px;height:4px;background:rgba(255,255,255,0.25)"></div><div class="r" style="left:483.0px;top:70px;width:1px;height:2px;background:rgba(255,255,255,0.25)"></div><div class="r" style="left:530.0px;top:50px;width:1px;height:4px;background:rgba(255,255,255,0.25)"></div><div class="r" style="left:530.0px;top:70px;width:1px;height:2px;background:rgba(255,255,255,0.25)"></div><div class="r" style="left:577.3px;top:50px;width:1px;height:4px;background:rgba(255,255,255,0.25)"></div><div class="r" style="left:577.3px;top:70px;width:1px;height:2px;background:rgba(255,255,255,0.25)"></div><div class="r" style="left:624.3px;top:50px;width:1px;height:4px;background:rgba(255,255,255,0.25)"></div><div class="r" style="left:624.3px;top:70px;width:1px;height:2px;background:rgba(255,255,255,0.25)"></div><div class="r" style="left:671.0px;top:50px;width:1px;height:4px;background:rgba(255,255,255,0.25)"></div><div class="r" style="left:671.0px;top:70px;width:1px;height:2px;background:rgba(255,255,255,0.25)"></div><div class="t" style="left:1.00px;top:333.10px;font-size:12px;line-height:12px;transform:scaleX(0.803);">C=Overall Length, D=Maximum Diameter, E=Exposed Length when Connected</div><div class="t" style="left:1.00px;top:347.20px;font-size:12px;line-height:12px;transform:scaleX(0.815);">To obtain connected length of coupling, add dimensions A (Fig. 1) and E (Fig. 3) together.</div>
<svg style="position:absolute;left:0;top:0" width="720" height="461" viewBox="0 0 720 461"><line x1="392.3" y1="345.5" x2="392.3" y2="426.5" stroke="#111" stroke-width="1.0"/><line x1="446.5" y1="356.5" x2="446.5" y2="372" stroke="#111" stroke-width="1.0"/><line x1="510.3" y1="345.5" x2="510.3" y2="370.5" stroke="#111" stroke-width="1.0"/><line x1="392.3" y1="348.8" x2="441.5" y2="348.8" stroke="#111" stroke-width="1.0"/><line x1="461.4" y1="348.8" x2="510.3" y2="348.8" stroke="#111" stroke-width="1.0"/><path d="M392.8,348.8 L402.30,346.30 L401.30,348.80 L402.30,351.30 Z" fill="#111" stroke="#111" stroke-width="0.4"/><path d="M509.8,348.8 L500.30,351.30 L501.30,348.80 L500.30,346.30 Z" fill="#111" stroke="#111" stroke-width="0.4"/><line x1="446.5" y1="359.6" x2="468.1" y2="359.6" stroke="#111" stroke-width="1.0"/><line x1="487.9" y1="359.6" x2="510.3" y2="359.6" stroke="#111" stroke-width="1.0"/><path d="M447,359.6 L456.50,357.10 L455.50,359.60 L456.50,362.10 Z" fill="#111" stroke="#111" stroke-width="0.4"/><path d="M509.8,359.6 L500.30,362.10 L501.30,359.60 L500.30,357.10 Z" fill="#111" stroke="#111" stroke-width="0.4"/><line x1="511.5" y1="370.2" x2="527" y2="370.2" stroke="#111" stroke-width="1.0"/><line x1="511.5" y1="442.1" x2="527" y2="442.1" stroke="#111" stroke-width="1.0"/><line x1="524" y1="370.2" x2="524" y2="400.4" stroke="#111" stroke-width="1.0"/><line x1="524" y1="414" x2="524" y2="442.1" stroke="#111" stroke-width="1.0"/><path d="M524,370.7 L526.50,380.20 L524.00,379.20 L521.50,380.20 Z" fill="#111" stroke="#111" stroke-width="0.4"/><path d="M524,441.6 L521.50,432.10 L524.00,433.10 L526.50,432.10 Z" fill="#111" stroke="#111" stroke-width="0.4"/><line x1="392.3" y1="385.7" x2="423.3" y2="385.7" stroke="#111" stroke-width="1.0"/><line x1="392.3" y1="426.7" x2="423.3" y2="426.7" stroke="#111" stroke-width="1.0"/><path d="M423.3,385.7 L425,384.3 L428,383.9 L431,383.9 L434.3,386.5 L438.5,386.5 L441,383.5 L447,383.5" stroke="#111" stroke-width="1.0" fill="none"/><path d="M423.3,426.70 L425,428.10 L428,428.50 L431,428.50 L434.3,425.90 L438.5,425.90 L441,428.90 L447,428.90" stroke="#111" stroke-width="1.0" fill="none"/><line x1="423.5" y1="385.7" x2="423.5" y2="426.7" stroke="#111" stroke-width="0.8"/><line x1="428.6" y1="383.9" x2="428.6" y2="428.5" stroke="#111" stroke-width="0.8"/><line x1="430.4" y1="383.9" x2="430.4" y2="428.5" stroke="#111" stroke-width="0.8"/><line x1="434.4" y1="386.5" x2="434.4" y2="425.9" stroke="#111" stroke-width="0.8"/><line x1="438.5" y1="386.5" x2="438.5" y2="425.9" stroke="#111" stroke-width="0.8"/><line x1="441.4" y1="383.5" x2="441.4" y2="428.9" stroke="#111" stroke-width="0.8"/><path d="M449.5,370.5 C445.63,374.95 445.63,380.90 449.5,385.35" stroke="#111" stroke-width="1.0" fill="none"/><path d="M494.9,370.5 C498.10,374.95 498.10,380.90 494.9,385.35" stroke="#111" stroke-width="1.0" fill="none"/><path d="M498.7,370.5 C496.83,374.95 496.83,380.90 498.7,385.35" stroke="#111" stroke-width="1.0" fill="none"/><path d="M508.9,370.5 C510.50,374.95 510.50,380.90 508.9,385.35" stroke="#111" stroke-width="1.0" fill="none"/><path d="M449.5,392.0 C445.63,400.52 445.63,411.88 449.5,420.4" stroke="#111" stroke-width="1.0" fill="none"/><path d="M494.9,392.0 C498.10,400.52 498.10,411.88 494.9,420.4" stroke="#111" stroke-width="1.0" fill="none"/><path d="M498.7,392.0 C496.83,400.52 496.83,411.88 498.7,420.4" stroke="#111" stroke-width="1.0" fill="none"/><path d="M508.9,392.0 C510.50,400.52 510.50,411.88 508.9,420.4" stroke="#111" stroke-width="1.0" fill="none"/><path d="M449.5,427.04999999999995 C445.63,431.53 445.63,437.51 449.5,442.0" stroke="#111" stroke-width="1.0" fill="none"/><path d="M494.9,427.04999999999995 C498.10,431.53 498.10,437.51 494.9,442.0" stroke="#111" stroke-width="1.0" fill="none"/><path d="M498.7,427.04999999999995 C496.83,431.53 496.83,437.51 498.7,442.0" stroke="#111" stroke-width="1.0" fill="none"/><path d="M508.9,427.04999999999995 C510.50,431.53 510.50,437.51 508.9,442.0" stroke="#111" stroke-width="1.0" fill="none"/><line x1="449.5" y1="370.5" x2="494.9" y2="370.5" stroke="#111" stroke-width="1.0"/><line x1="498.7" y1="370.5" x2="508.9" y2="370.5" stroke="#111" stroke-width="1.0"/><line x1="449.5" y1="385.35" x2="494.9" y2="385.35" stroke="#111" stroke-width="1.0"/><line x1="498.7" y1="385.35" x2="508.9" y2="385.35" stroke="#111" stroke-width="1.0"/><line x1="449.5" y1="392.0" x2="494.9" y2="392.0" stroke="#111" stroke-width="1.0"/><line x1="498.7" y1="392.0" x2="508.9" y2="392.0" stroke="#111" stroke-width="1.0"/><line x1="449.5" y1="420.4" x2="494.9" y2="420.4" stroke="#111" stroke-width="1.0"/><line x1="498.7" y1="420.4" x2="508.9" y2="420.4" stroke="#111" stroke-width="1.0"/><line x1="449.5" y1="427.04999999999995" x2="494.9" y2="427.04999999999995" stroke="#111" stroke-width="1.0"/><line x1="498.7" y1="427.04999999999995" x2="508.9" y2="427.04999999999995" stroke="#111" stroke-width="1.0"/><line x1="449.5" y1="442.0" x2="494.9" y2="442.0" stroke="#111" stroke-width="1.0"/><line x1="498.7" y1="442.0" x2="508.9" y2="442.0" stroke="#111" stroke-width="1.0"/><line x1="446.6" y1="383.5" x2="446.6" y2="428.9" stroke="#111" stroke-width="1.0"/><rect x="446.6" y="385.35" width="2.8999999999999773" height="6.649999999999977" fill="#c8c8c8"/><rect x="494.9" y="385.35" width="2.400000000000034" height="6.649999999999977" fill="#c8c8c8"/><rect x="508.9" y="385.35" width="1.2000000000000455" height="6.649999999999977" fill="#c8c8c8"/><line x1="446.6" y1="385.35" x2="446.6" y2="392.0" stroke="#111" stroke-width="1.1"/><line x1="497.3" y1="385.35" x2="497.3" y2="392.0" stroke="#111" stroke-width="1.1"/><line x1="510.1" y1="385.35" x2="510.1" y2="392.0" stroke="#111" stroke-width="1.0"/><line x1="449.5" y1="385.35" x2="449.5" y2="392.0" stroke="#888" stroke-width="0.5"/><line x1="494.9" y1="385.35" x2="494.9" y2="392.0" stroke="#888" stroke-width="0.5"/><rect x="446.6" y="420.4" width="2.8999999999999773" height="6.649999999999977" fill="#c8c8c8"/><rect x="494.9" y="420.4" width="2.400000000000034" height="6.649999999999977" fill="#c8c8c8"/><rect x="508.9" y="420.4" width="1.2000000000000455" height="6.649999999999977" fill="#c8c8c8"/><line x1="446.6" y1="420.4" x2="446.6" y2="427.04999999999995" stroke="#111" stroke-width="1.1"/><line x1="497.3" y1="420.4" x2="497.3" y2="427.04999999999995" stroke="#111" stroke-width="1.1"/><line x1="510.1" y1="420.4" x2="510.1" y2="427.04999999999995" stroke="#111" stroke-width="1.0"/><line x1="449.5" y1="420.4" x2="449.5" y2="427.04999999999995" stroke="#888" stroke-width="0.5"/><line x1="494.9" y1="420.4" x2="494.9" y2="427.04999999999995" stroke="#888" stroke-width="0.5"/><circle cx="503.8" cy="406.2" r="1.3" fill="#111"/><path d="M503.8,406.2 L516.2,453.5 L509.4,453.5" stroke="#111" stroke-width="0.9" fill="none"/><text x="0" y="0" transform="translate(448.0,352.7) scale(1.06,1)" font-family="Liberation Sans, sans-serif" font-weight="bold" font-size="10.6" fill="#111" stroke="#111" stroke-width="0.35">C</text><text x="0" y="0" transform="translate(475.6,363.4) scale(0.95,1)" font-family="Liberation Sans, sans-serif" font-weight="bold" font-size="10.6" fill="#111" stroke="#111" stroke-width="0.35">E</text><text x="0" y="0" transform="translate(520.4,410.4) scale(0.92,1)" font-family="Liberation Sans, sans-serif" font-weight="bold" font-size="11.4" fill="#111" stroke="#111" stroke-width="0.35">D</text><text x="0" y="0" transform="translate(489.6,457.1) scale(0.84,1)" font-family="Liberation Sans, sans-serif" font-weight="bold" font-size="12.0" fill="#111" stroke="#111" stroke-width="0.35">Hex</text></svg>
</body></html>
